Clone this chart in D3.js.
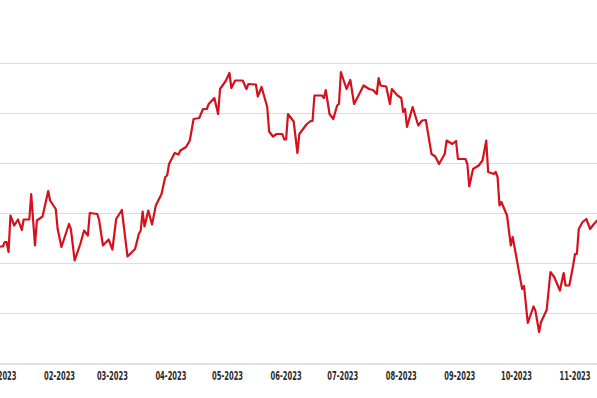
<!DOCTYPE html>
<html>
<head>
<meta charset="utf-8">
<script src="https://cdn.jsdelivr.net/npm/d3@7"></script>
<style>
  body { margin: 0; background: #fff; }
  svg { display: block; }
  .tick-label { font-family: "Liberation Sans Narrow", "DejaVu Sans Condensed", "Roboto", sans-serif; font-size: 12px; font-weight: bold; fill: #2a2a2a; }
</style>
</head>
<body>
<svg width="597" height="398"></svg>
<script>
// price series (no y labels shown, so values are on an arbitrary scale)
var dates = [
  "2022-12-31","2023-01-02","2023-01-03","2023-01-04","2023-01-05","2023-01-06","2023-01-08","2023-01-10",
  "2023-01-12","2023-01-13","2023-01-16","2023-01-17","2023-01-19","2023-01-20","2023-01-23","2023-01-26",
  "2023-01-27","2023-01-30","2023-01-31","2023-02-02","2023-02-06","2023-02-07","2023-02-09","2023-02-12",
  "2023-02-14","2023-02-16","2023-02-17","2023-02-21","2023-02-22","2023-02-24","2023-02-27","2023-03-01",
  "2023-03-03","2023-03-06","2023-03-09","2023-03-13","2023-03-15","2023-03-16","2023-03-17","2023-03-18",
  "2023-03-20","2023-03-22","2023-03-24","2023-03-27","2023-03-29","2023-03-30","2023-03-31","2023-04-03",
  "2023-04-05","2023-04-06","2023-04-09","2023-04-11","2023-04-13","2023-04-16","2023-04-18","2023-04-20",
  "2023-04-21","2023-04-24","2023-04-26","2023-04-27","2023-04-30","2023-05-02","2023-05-03","2023-05-05",
  "2023-05-09","2023-05-11","2023-05-12","2023-05-16","2023-05-17","2023-05-19","2023-05-22","2023-05-23",
  "2023-05-25","2023-05-27","2023-05-30","2023-05-31","2023-06-01","2023-06-02","2023-06-05","2023-06-07",
  "2023-06-08","2023-06-10","2023-06-12","2023-06-14","2023-06-15","2023-06-16","2023-06-20","2023-06-21",
  "2023-06-22","2023-06-24","2023-06-26","2023-06-28","2023-06-29","2023-06-30","2023-07-03","2023-07-05",
  "2023-07-07","2023-07-10","2023-07-12","2023-07-15","2023-07-17","2023-07-19","2023-07-20","2023-07-21",
  "2023-07-24","2023-07-26","2023-07-27","2023-07-30","2023-08-01","2023-08-02","2023-08-03","2023-08-04",
  "2023-08-07","2023-08-10","2023-08-12","2023-08-14","2023-08-17","2023-08-19","2023-08-21","2023-08-24",
  "2023-08-25","2023-08-28","2023-08-30","2023-08-31","2023-09-04","2023-09-05","2023-09-06","2023-09-08",
  "2023-09-11","2023-09-13","2023-09-15","2023-09-16","2023-09-19","2023-09-20","2023-09-21","2023-09-22",
  "2023-09-23","2023-09-26","2023-09-28","2023-09-29","2023-10-04","2023-10-05","2023-10-07","2023-10-10",
  "2023-10-11","2023-10-13","2023-10-14","2023-10-17","2023-10-19","2023-10-21","2023-10-24","2023-10-26",
  "2023-10-27","2023-10-29","2023-10-31","2023-11-01","2023-11-02","2023-11-03","2023-11-05","2023-11-07",
  "2023-11-09","2023-11-11","2023-11-13","2023-11-14"
];
var values = [
  73.4,73.4,74.3,74.3,72.3,79.6,77.6,78.8,
  76.7,78.8,78.8,83.9,73.6,78.6,79.4,84.5,
  82.6,80.9,76.9,73.3,77.9,76.9,70.6,73.9,
  76.6,75.6,80.1,79.9,78.6,73.6,74.8,72.8,
  78.9,80.7,71.4,72.9,75.9,76.6,80.4,77.4,
  80.6,77.8,81.6,83.9,87.3,87.6,89.9,92.1,
  91.8,92.6,93.3,94.6,98.9,99.1,100.9,100.9,
  101.9,103.1,99.9,104.9,106.5,108.1,105.1,106.6,
  106.6,104.9,105.9,105.8,103.4,105.3,101.3,96.4,
  95.4,95.9,95.9,94.8,94.8,99.9,98.4,92.1,
  95.9,96.9,97.9,98.5,98.5,103.6,103.6,103.1,
  104.7,99.9,98.9,101.6,101.9,108.3,104.9,106.7,
  101.9,104.1,105.6,104.9,104.7,103.9,107.1,105.6,
  105.4,101.9,104.9,103.6,103.1,100.3,100.9,97.3,
  101.3,97.6,98.6,98.7,91.9,91.4,89.9,91.9,
  94.6,93.9,94.5,90.9,90.9,89.9,85.4,88.9,
  89.6,90.6,94.6,88.3,87.9,88.3,87.3,81.6,
  82.3,79.6,73.6,75.3,64.9,65.5,58.1,61.4,
  60.6,56.3,58.3,60.7,68.3,67.3,64.6,68.1,
  65.6,65.6,69.6,71.9,71.9,76.9,78.3,78.9,
  76.9,77.9,78.7,79.2
];
var tickDates = ["2023-01-01","2023-02-01","2023-03-01","2023-04-01","2023-05-01","2023-06-01",
                 "2023-07-01","2023-08-01","2023-09-01","2023-10-01","2023-11-01"];
var gridValues = [60, 70, 80, 90, 100, 110];

var svg = d3.select("svg"), width = +svg.attr("width"), height = +svg.attr("height");
var parseDate = d3.timeParse("%Y-%m-%d");
var fmt = d3.timeFormat("%m-%Y");

var data = dates.map(function(d, i) { return {date: parseDate(d), value: values[i]}; });

var x = d3.scaleTime()
  .domain([parseDate("2023-01-01"), parseDate("2023-11-01")])
  .range([1, 575]);
var y = d3.scaleLinear().domain([50, 110]).range([363.5, 63.5]);

// horizontal gridlines
svg.append("g")
  .selectAll("line")
  .data(gridValues)
  .enter().append("line")
  .attr("x1", 0).attr("x2", width)
  .attr("y1", function(d) { return y(d); })
  .attr("y2", function(d) { return y(d); })
  .style("stroke", "#dcdcdc")
  .style("stroke-width", "1px");

// baseline
svg.append("line")
  .attr("x1", 0).attr("x2", width)
  .attr("y1", y(50) + 0.5).attr("y2", y(50) + 0.5)
  .style("stroke", "#e0e0e0")
  .style("stroke-width", "2px");

// month labels (the font is very condensed, so squeeze to the measured width)
svg.append("g")
  .selectAll("text")
  .data(tickDates.map(parseDate))
  .enter().append("text")
  .attr("class", "tick-label")
  .attr("x", function(d) { return x(d); })
  .attr("y", 379.5)
  .attr("text-anchor", "middle")
  .attr("textLength", 31)
  .attr("lengthAdjust", "spacingAndGlyphs")
  .text(function(d) { return fmt(d); });

var line = d3.line()
  .x(function(d) { return x(d.date); })
  .y(function(d) { return y(d.value); });

svg.append("path")
  .datum(data)
  .attr("d", line)
  .style("fill", "none")
  .style("stroke", "#d6111e")
  .style("stroke-width", "2.2px")
  .style("stroke-linejoin", "round");
</script>
</body>
</html>
